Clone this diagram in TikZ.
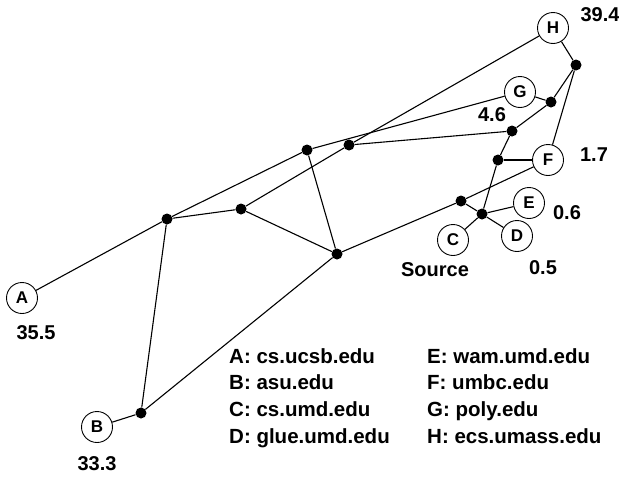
\documentclass[tikz,border=0pt]{standalone}
\usepackage{fontspec}
\setmainfont{Liberation Sans}
\begin{document}
\begin{tikzpicture}[x=1pt,y=-1pt,
  host/.style={circle,draw,line width=0.9pt,minimum size=31pt,inner sep=0pt,font=\fontsize{17}{19}\selectfont\bfseries},
  router/.style={circle,fill=black,minimum size=11pt,inner sep=0pt},
  lbl/.style={font=\fontsize{20}{22}\selectfont\bfseries,inner sep=0pt},
  leg/.style={font=\fontsize{20.5}{24}\selectfont\bfseries,inner sep=0pt,anchor=base west},
  link/.style={line width=1.1pt}]
\useasboundingbox (0,0) rectangle (619,477);
% hosts
\node[host] (H) at (553,28) {H};
\node[host] (G) at (520,92) {G};
\node[host] (F) at (548,160) {F};
\node[host] (E) at (529,203) {E};
\node[host] (D) at (517,236) {D};
\node[host] (C) at (453,240) {C};
\node[host] (A) at (22,298) {A};
\node[host] (B) at (97,427) {B};
% routers
\node[router] (dh) at (576,65) {};
\node[router] (dg) at (551,102) {};
\node[router] (d46) at (512,131) {};
\node[router] (df) at (498,160) {};
\node[router] (ds) at (482,214) {};
\node[router] (dc) at (461,201) {};
\node[router] (d1) at (167,219) {};
\node[router] (d2) at (241,209) {};
\node[router] (d3) at (307,150) {};
\node[router] (d4) at (349,145) {};
\node[router] (d5) at (337,254) {};
\node[router] (db) at (141,413) {};
% links
\draw[link] (A) -- (d1);
\draw[link] (d1) -- (d3);
\draw[link] (d3) -- (G);
\draw[link] (d1) -- (d2);
\draw[link] (d2) -- (d4);
\draw[link] (d4) -- (H);
\draw[link] (d4) -- (d46);
\draw[link] (d3) -- (d5);
\draw[link] (d2) -- (d5);
\draw[link] (d1) -- (db);
\draw[link] (db) -- (B);
\draw[link] (db) -- (d5);
\draw[link] (d5) -- (dc);
\draw[link] (dc) -- (F);
\draw[link] (dc) -- (ds);
\draw[link] (ds) -- (C);
\draw[link] (ds) -- (E);
\draw[link] (ds) -- (D);
\draw[link] (ds) -- (df);
\draw[link] (df) -- (F);
\draw[link] (df) -- (d46);
\draw[link] (d46) -- (dg);
\draw[link] (dg) -- (G);
\draw[link] (dg) -- (dh);
\draw[link] (dh) -- (H);
\draw[link] (dh) -- (F);
% value labels
\node[lbl] (l39) at (600,15) {39.4};
\node[lbl] (l46) at (492,115) {4.6};
\node[lbl] (l17) at (594,155) {1.7};
\node[lbl] (l06) at (567,213) {0.6};
\node[lbl] (l05) at (543,268) {0.5};
\node[lbl] (src) at (435,270) {Source};
\node[lbl] (l355) at (36,333) {35.5};
\node[lbl] (l333) at (97,464) {33.3};
% legend
\node[leg] (la) at (229,363) {A: cs.ucsb.edu};
\node[leg] (lb) at (229,389.5) {B: asu.edu};
\node[leg] (lc) at (229,416) {C: cs.umd.edu};
\node[leg] (ld) at (229,443) {D: glue.umd.edu};
\node[leg] (le) at (427,363) {E: wam.umd.edu};
\node[leg] (lf) at (427,389.5) {F: umbc.edu};
\node[leg] (lg) at (427,416) {G: poly.edu};
\node[leg] (lh) at (427,443) {H: ecs.umass.edu};
\end{tikzpicture}
\end{document}
